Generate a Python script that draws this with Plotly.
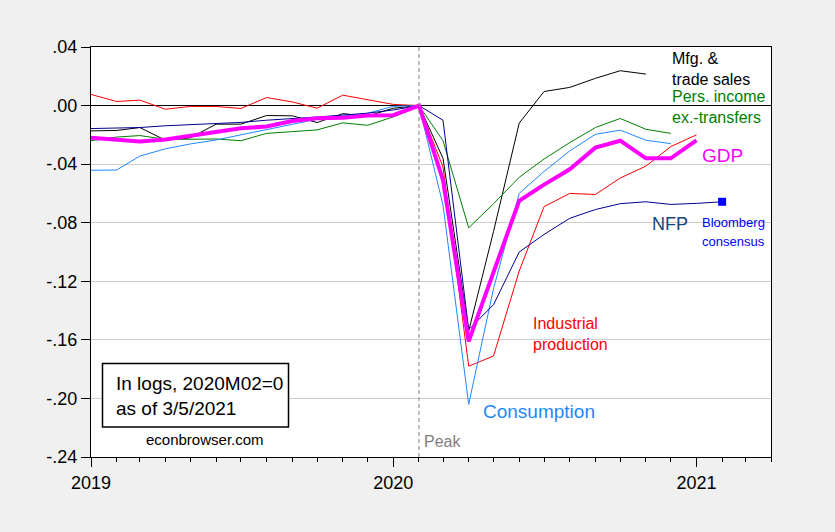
import pandas as pd
import plotly.graph_objects as go

# ---------------- data (log deviations from 2020M02) ----------------
months = pd.date_range("2019-01-01", "2021-01-01", freq="MS")   # Jan 2019 .. Jan 2021

industrial_production = [0.0076, 0.0028, 0.0037, -0.0025, -0.0006, -0.0006, -0.0020, 0.0055,
                         0.0025, -0.0018, 0.0071, 0.0040, 0.0008, 0.0, -0.042, -0.178,
                         -0.171, -0.113, -0.069, -0.060, -0.0607, -0.0495, -0.0413, -0.028, -0.020]

mfg_trade_sales = [-0.0173, -0.0170, -0.0150, -0.0237, -0.0220, -0.0127, -0.0127, -0.0068,
                   -0.0070, -0.0116, -0.0055, -0.0072, -0.0018, 0.0, -0.036, -0.154,
                   -0.086, -0.012, 0.0096, 0.0124, 0.0186, 0.0238, 0.0215]

pers_income_ex_transfers = [-0.024, -0.0215, -0.0205, -0.023, -0.023, -0.0228, -0.024, -0.019,
                            -0.0178, -0.0166, -0.0118, -0.0135, -0.0077, 0.0, -0.024, -0.0835,
                            -0.067, -0.049, -0.0365, -0.0253, -0.015, -0.0088, -0.0162, -0.019]

consumption = [-0.0442, -0.0440, -0.0345, -0.0295, -0.0262, -0.0235, -0.0200, -0.0162,
               -0.0128, -0.0093, -0.0070, -0.0052, -0.0005, 0.0, -0.068, -0.204,
               -0.125, -0.060, -0.045, -0.031, -0.0196, -0.0168, -0.0237, -0.026]

gdp = [-0.0219, -0.0235, -0.0246, -0.0232, -0.0207, -0.0184, -0.0155, -0.0143,
       -0.0105, -0.0087, -0.0084, -0.0068, -0.0066, 0.0, -0.051, -0.161,
       -0.113, -0.065, -0.054, -0.0435, -0.0287, -0.0240, -0.036, -0.036, -0.0237]

nfp = [-0.0157, -0.0155, -0.0150, -0.0138, -0.0130, -0.0125, -0.0115, -0.0100,
       -0.0090, -0.0078, -0.0065, -0.0052, -0.0030, 0.0, -0.010, -0.153,
       -0.136, -0.100, -0.088, -0.077, -0.071, -0.067, -0.0657, -0.0675, -0.0668]

consensus_month = "2021-02-01"
nfp_consensus = -0.0657

peak_month = "2020-02-01"
y_ticks = [0.04, 0.00, -0.04, -0.08, -0.12, -0.16, -0.20, -0.24]
y_tick_labels = [".04", ".00", "-.04", "-.08", "-.12", "-.16", "-.20", "-.24"]

# ---------------- figure ----------------
FONT = "Liberation Sans, Arial, sans-serif"
W, H = 835, 532
L, R, T, B = 91, 771, 47, 457

def px(x):
    return (x - L) / (R - L)

def py(y):
    return (B - y) / (B - T)

fig = go.Figure()

def add_line(x, y, color, width=1):
    fig.add_trace(go.Scatter(x=x, y=y, mode="lines",
                             line=dict(color=color, width=width),
                             showlegend=False, hoverinfo="skip"))

add_line(months[:len(industrial_production)], industrial_production, "#ff0000")
add_line(months[:len(mfg_trade_sales)], mfg_trade_sales, "#000000")
add_line(months[:len(pers_income_ex_transfers)], pers_income_ex_transfers, "#008000")
add_line(months[:len(consumption)], consumption, "#1e88ff")
add_line(months[:len(nfp)], nfp, "#000090")
add_line(months[:len(gdp)], gdp, "#ff00ff", 4)

# consensus segment + marker
fig.add_trace(go.Scatter(x=[months[len(nfp) - 1], pd.Timestamp(consensus_month)],
                         y=[nfp[-1], nfp_consensus], mode="lines",
                         line=dict(color="#000090", width=1),
                         showlegend=False, hoverinfo="skip"))
fig.add_trace(go.Scatter(x=[pd.Timestamp(consensus_month)], y=[nfp_consensus], mode="markers",
                         marker=dict(symbol="square", size=8, color="#0000ff"),
                         showlegend=False, hoverinfo="skip"))

# peak line
fig.add_shape(type="line", x0=peak_month, x1=peak_month, xref="x", yref="paper",
              y0=0, y1=1, line=dict(color="#808080", width=1, dash="4px,3px"), layer="above")

# info box
fig.add_shape(type="rect", xref="paper", yref="paper",
              x0=px(102.5), x1=px(288.5), y0=py(427), y1=py(363.5),
              line=dict(color="black", width=1.5), fillcolor="white")

def note(text, x, y, color, size, xanchor="left"):
    fig.add_annotation(text=text, x=px(x), y=py(y), xref="paper", yref="paper",
                       xanchor=xanchor, yanchor="middle", showarrow=False,
                       font=dict(family=FONT, size=size, color=color), align="left")

note("Mfg. &", 670, 58, "black", 16)
note("trade sales", 670, 79.5, "black", 16)
note("Pers. income", 670, 96.5, "#008000", 16)
note("ex.-transfers", 670, 117, "#008000", 16)
note("GDP", 700, 155, "#ff00ff", 19)
note("NFP", 650, 224, "#17467e", 18)
note("Bloomberg", 700, 222, "#0000ff", 13)
note("consensus", 700, 241, "#0000ff", 13)
note("Industrial", 531, 323.5, "#ff0000", 16)
note("production", 531, 344, "#ff0000", 16)
note("Consumption", 481, 411.5, "#1e88ff", 19)
note("Peak", 422, 441, "#808080", 16)
note("In logs, 2020M02=0", 114, 383, "black", 19)
note("as of 3/5/2021", 114, 408.5, "black", 19)
note("econbrowser.com", 143.5, 439.5, "black", 15)

fig.update_layout(
    width=W, height=H,
    margin=dict(l=L, r=W - R, t=T, b=H - B, pad=0),
    paper_bgcolor="#f0f0f0", plot_bgcolor="white",
    font=dict(family=FONT, size=17, color="black"),
    showlegend=False,
)

fig.update_xaxes(
    type="date", range=["2019-01-01", "2021-04-01"],
    tick0="2019-01-01", dtick="M12", tickformat="%Y",
    ticks="outside", ticklen=9, tickwidth=1, tickcolor="black",
    minor=dict(dtick="M1", tick0="2019-01-01", ticks="outside", ticklen=4,
               tickcolor="black", showgrid=False),
    showgrid=False, showline=True, linecolor="black", linewidth=1, mirror=True,
    tickfont=dict(size=18), zeroline=False,
)

fig.update_yaxes(
    range=[-0.24, 0.04], tickmode="array", tickvals=y_ticks, ticktext=y_tick_labels,
    ticks="outside", ticklen=9, tickwidth=1, tickcolor="black",
    showgrid=True, gridcolor="#cccccc", gridwidth=1,
    zeroline=True, zerolinecolor="black", zerolinewidth=1,
    showline=True, linecolor="black", linewidth=1, mirror=True,
    tickfont=dict(size=18),
)

fig.write_html(
    "out.html",
    config={"displayModeBar": False},
    post_script="document.body.style.margin='0';document.body.style.background='#f0f0f0';",
)
